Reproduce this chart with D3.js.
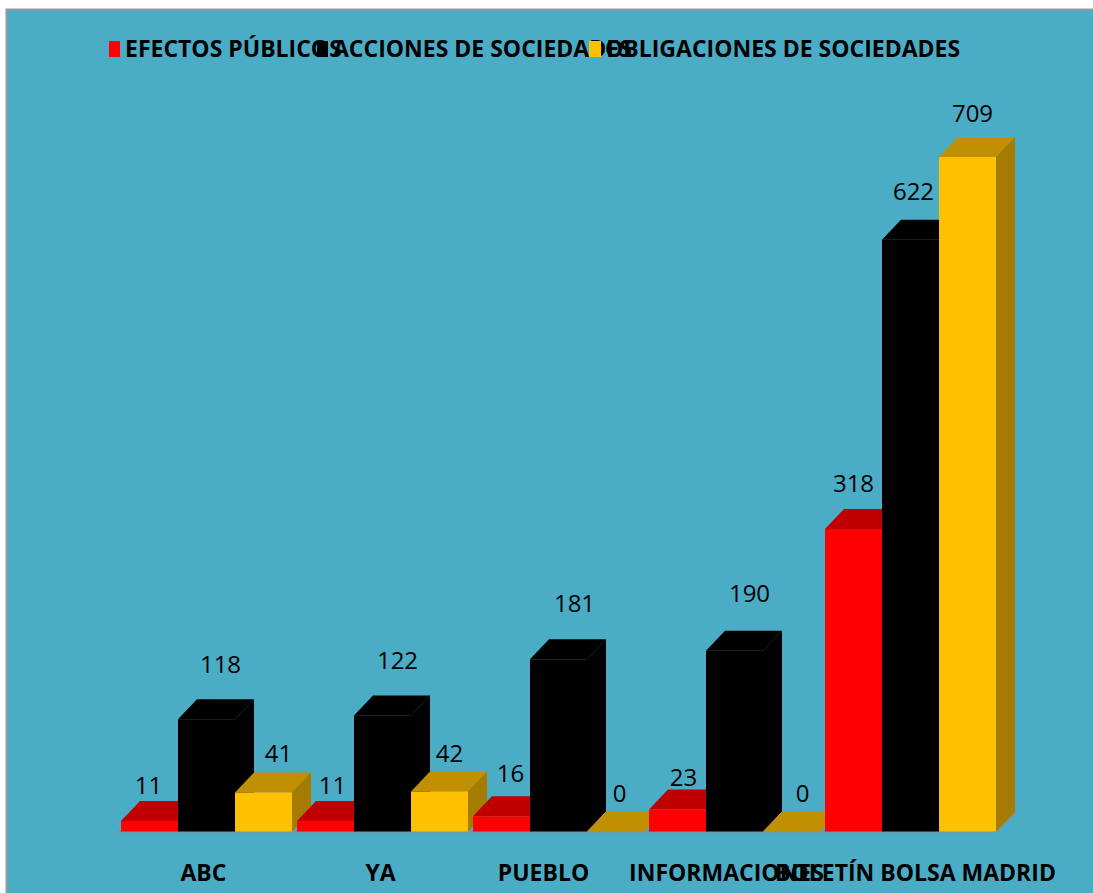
<!DOCTYPE html>
<html><head><meta charset="utf-8">
<script src="https://cdn.jsdelivr.net/npm/d3@7"></script>
<style>
html,body{margin:0;padding:0;background:#fff}
svg{display:block}
text{fill:#000;font-family:"Liberation Sans Narrow","Open Sans",sans-serif}
.cat,.leg{font-weight:700}
</style></head><body>
<svg id="c" width="1093" height="893"></svg>
<script>
const categories = ["ABC","YA","PUEBLO","INFORMACIONES","BOLETÍN BOLSA MADRID"];
const seriesNames = ["EFECTOS PÚBLICOS","ACCIONES DE SOCIEDADES","OBLIGACIONES DE SOCIEDADES"];
const efectosPublicos = [11,11,16,23,318];
const accionesSociedades = [118,122,181,190,622];
const obligacionesSociedades = [41,42,0,0,709];
const seriesValues = [efectosPublicos,accionesSociedades,obligacionesSociedades];
const front = ["#ff0000","#000000","#ffc000"];
const top_ = ["#c00000","#000000","#c09000"];
const side = ["#a00000","#000000","#a67c00"];
// manual placement of data labels relative to the bar's rear top edge [dx, dy]
const labelNudge = [
 [[-1,-17],[14,-36],[15,-20]],
 [[7,-17],[15,-36],[10,-19]],
 [[9,-24],[16,-37],[4,-19]],
 [[6,-13],[15,-38],[11,-19]],
 [[0,-26],[3,-29],[5,-25]]];
const catNudge=[-3,-2,-15,-8,5];

const svg=d3.select("#c");
const x0=d3.scaleBand().domain(categories).range([121,1001]);
const x1=d3.scaleBand().domain(d3.range(3)).range([0,171]);
const y=d3.scaleLinear().domain([0,709]).range([831.5,157]);
const dx=19,dy=20;

svg.append("rect").attr("x",6.5).attr("y",9.5).attr("width",1100).attr("height",900)
 .attr("fill","#4bacc6").attr("stroke","#999").attr("stroke-width",2);

const base=y(0);
// floor
svg.append("path").attr("d",`M118,${base}H${x0(categories[4])+171}l${dx+1},${-dy}`)
 .attr("fill","none").attr("stroke","#8c8c8c").attr("stroke-width",2);

categories.forEach((c,i)=>{
 seriesValues.forEach((vals,s)=>{
  const v=vals[i],l=x0(c)+x1(s),w=x1.bandwidth(),t=y(v);
  const g=svg.append("g");
  g.append("path").attr("d",`M${l},${t}l${dx},${-dy}h${w}l${-dx},${dy}z`).attr("fill",top_[s]);
  g.append("path").attr("d",`M${l+w},${t}l${dx},${-dy}V${base-dy}l${-dx},${dy}z`).attr("fill",side[s]);
  if(v>0)g.append("rect").attr("x",l).attr("y",t).attr("width",w).attr("height",base-t).attr("fill",front[s]);
 });
});
// labels above everything
categories.forEach((c,i)=>{
 seriesValues.forEach((vals,s)=>{
  const v=vals[i],n=labelNudge[i][s];
  svg.append("text").attr("text-anchor","middle").attr("dominant-baseline","central")
   .attr("x",x0(c)+x1(s)+x1.bandwidth()/2+n[0]).attr("y",y(v)-dy+n[1])
   .attr("font-size",24).attr("transform-origin","center").text(v);
 });
 svg.append("text").attr("class","cat").attr("text-anchor","middle").attr("dominant-baseline","central")
  .attr("x",x0(c)+85.5+catNudge[i]).attr("y",872).attr("font-size",23).text(c);
});
// legend
const legX=[108,316,588],legW=[11,11,12];
seriesNames.forEach((n,i)=>{
 svg.append("rect").attr("x",legX[i]+1).attr("y",41).attr("width",legW[i]).attr("height",16).attr("fill",front[i]);
 svg.append("text").attr("class","leg").attr("dominant-baseline","central").attr("x",legX[i]+17).attr("y",48).attr("font-size",23).text(n);
});
</script></body></html>
